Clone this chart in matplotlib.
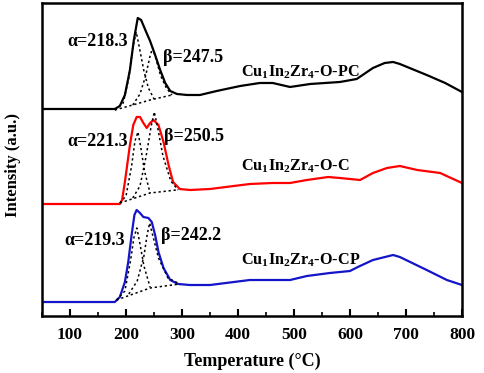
import matplotlib
matplotlib.use("Agg")
import matplotlib.pyplot as plt
from matplotlib.ticker import MultipleLocator

plt.rcParams["font.family"] = ["Liberation Serif", "DejaVu Serif"]
plt.rcParams["font.weight"] = "bold"
plt.rcParams["mathtext.fontset"] = "custom"
plt.rcParams["mathtext.rm"] = "Liberation Serif:bold"
plt.rcParams["mathtext.bf"] = "Liberation Serif:bold"
plt.rcParams["mathtext.it"] = "Liberation Serif:bold"

# H2-TPR profiles (temperature in degC, intensity a.u.)
pc_t = [50, 180, 189, 198, 207, 214, 221, 227, 236, 243, 252, 261, 270, 279, 291,
        309, 332, 362, 404, 439, 462, 493, 529, 582, 612, 641, 662, 677, 689, 737, 770, 800]
pc_i = [207, 207, 210, 221, 246, 276, 298, 296, 284, 275, 261, 246, 233, 225, 222,
        221, 221, 225, 230, 233, 233, 229, 232, 234, 237, 248, 253, 254, 252, 241, 233, 224]

c_t = [50, 189, 193, 198, 207, 213, 219, 225, 231, 237, 243, 249, 258, 267, 276, 284,
       296, 314, 350, 421, 462, 493, 523, 561, 582, 618, 641, 666, 689, 720, 761, 800]
c_i = [112, 112, 116, 134, 171, 191, 199, 199, 193, 188, 193, 196, 191, 174, 151, 134,
       127, 126, 127, 132, 133, 133, 136, 139, 138, 136, 143, 148, 150, 146, 143, 133]

cp_t = [50, 180, 189, 198, 204, 210, 215, 219, 225, 231, 240, 246, 252, 258, 267, 279,
        293, 314, 350, 421, 493, 523, 564, 600, 614, 641, 677, 689, 737, 773, 800]
cp_i = [14, 14, 19, 34, 54, 81, 101, 106, 103, 99, 98, 94, 81, 64, 48, 36,
        32, 31, 31, 36, 36, 40, 43, 45, 49, 56, 61, 59, 46, 36, 31]

# fitted components (dotted)
pc_alpha_t = [180, 195, 205, 212, 218.3, 224, 232, 240, 250]
pc_alpha_i = [206, 213, 238, 268, 284, 268, 245, 228, 217]
pc_beta_t = [212, 225, 235, 243, 247.5, 253, 262, 272, 282]
pc_beta_i = [211, 222, 240, 260, 268, 258, 240, 228, 221]
pc_base_t = [180, 212, 243, 282]
pc_base_i = [206, 211, 216, 221]

c_alpha_t = [189, 200, 210, 216, 221.3, 226, 233, 243]
c_alpha_i = [113, 120, 150, 175, 184, 170, 145, 123]
c_beta_t = [212, 225, 236, 245, 250.5, 256, 266, 280, 293]
c_beta_i = [118, 130, 160, 190, 204, 190, 160, 135, 126]
c_base_t = [189, 243, 290]
c_base_i = [113, 123, 126]

cp_alpha_t = [183, 198, 208, 214, 219.3, 224, 232, 243]
cp_alpha_i = [16, 25, 55, 78, 88, 75, 50, 29]
cp_beta_t = [205, 220, 232, 238, 242.2, 248, 258, 275, 296]
cp_beta_i = [22, 35, 60, 82, 93, 80, 58, 38, 32]
cp_base_t = [183, 243, 296]
cp_base_i = [16, 28, 32]

fig = plt.figure(figsize=(4.84, 3.73), dpi=100)
ax = fig.add_axes([0.0868, 0.1528, 0.8677, 0.8392])

for t, i, col in [(pc_t, pc_i, "black"), (c_t, c_i, "#ff0000"), (cp_t, cp_i, "#1414c8")]:
    ax.plot(t, i, color=col, lw=1.6)

for t, i in [(pc_alpha_t, pc_alpha_i), (pc_beta_t, pc_beta_i), (pc_base_t, pc_base_i),
             (c_alpha_t, c_alpha_i), (c_beta_t, c_beta_i), (c_base_t, c_base_i),
             (cp_alpha_t, cp_alpha_i), (cp_beta_t, cp_beta_i), (cp_base_t, cp_base_i)]:
    ax.plot(t, i, color="black", lw=1.1, ls=(0, (1.5, 1.8)))


def tx(px):
    return 50 + (px - 42) / 0.56


def iy(py):
    return 316 - py


fs = 13
ax.text(tx(67), iy(42), "α=218.3", fontsize=fs, va="center")
ax.text(tx(163), iy(58), "β=247.5", fontsize=fs, va="center")
ax.text(tx(67), iy(142), "α=221.3", fontsize=fs, va="center")
ax.text(tx(164), iy(137), "β=250.5", fontsize=fs, va="center")
ax.text(tx(64), iy(240), "α=219.3", fontsize=fs, va="center")
ax.text(tx(161), iy(235), "β=242.2", fontsize=fs, va="center")
fc = 11.7
ax.text(tx(241), iy(72), r"Cu$_1$In$_2$Zr$_4$-O-PC", fontsize=fc, va="center")
ax.text(tx(241), iy(166), r"Cu$_1$In$_2$Zr$_4$-O-C", fontsize=fc, va="center")
ax.text(tx(241), iy(260), r"Cu$_1$In$_2$Zr$_4$-O-CP", fontsize=fc, va="center")

ax.set_xlim(50, 800)
ax.set_ylim(0, 313)
ax.xaxis.set_major_locator(MultipleLocator(100))
ax.xaxis.set_minor_locator(MultipleLocator(50))
ax.set_yticks([])
ax.tick_params(axis="x", which="major", direction="in", length=5, width=1.5,
               labelsize=12.5, pad=8)
ax.tick_params(axis="x", which="minor", direction="in", length=3, width=1.2)
for s in ax.spines.values():
    s.set_linewidth(1.8)

ax.set_xlabel("Temperature (°C)", fontsize=13, fontweight="bold", labelpad=7)
ax.set_ylabel("Intensity (a.u.)", fontsize=12, fontweight="bold")
ax.yaxis.set_label_coords(-0.05, 0.482)

fig.savefig("out.png", dpi=100)
